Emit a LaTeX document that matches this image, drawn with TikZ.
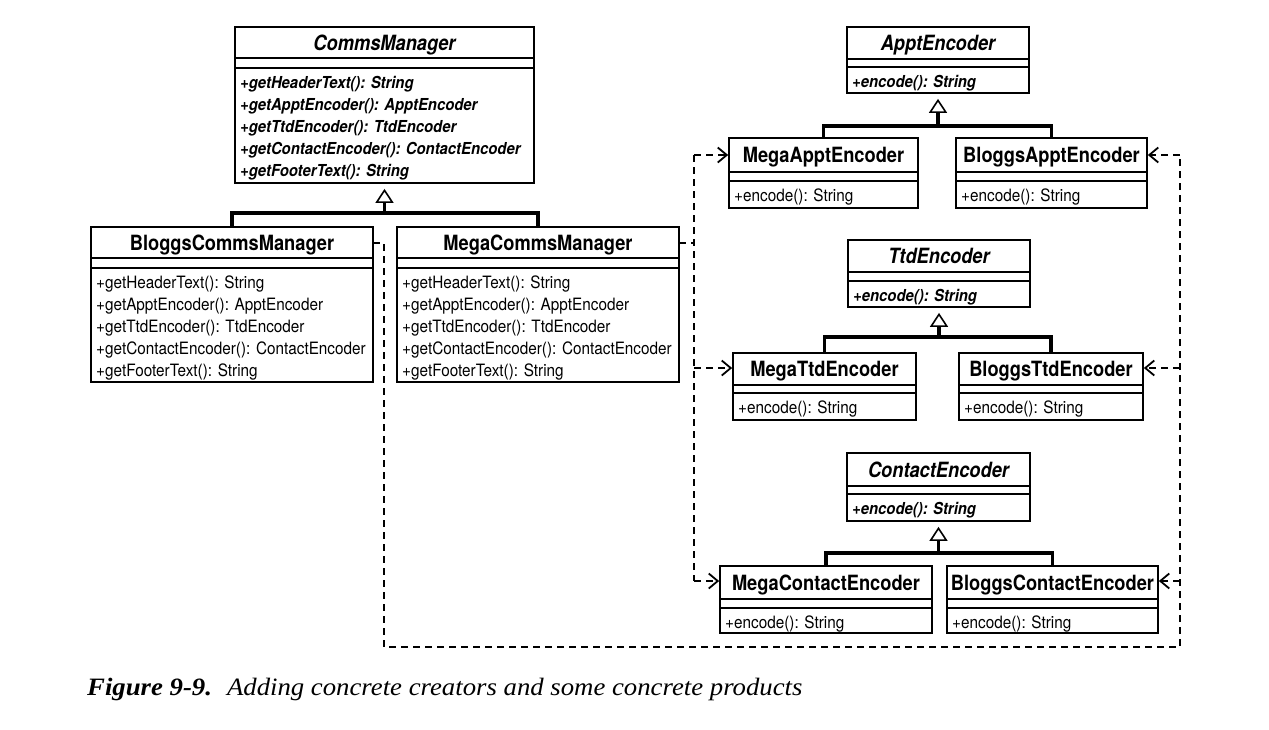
\documentclass[tikz,border=0pt]{standalone}
\usepackage{fontspec}
\usetikzlibrary{arrows.meta,fit,positioning}
\newfontfamily\umltitlefont{TeX Gyre Heros}[FakeStretch=0.87]
\newfontfamily\umlfont{TeX Gyre Heros}[FakeStretch=0.9]
\newfontfamily\capfont{Liberation Serif}[FakeStretch=1.07]
\newcommand{\ttl}{\umltitlefont\bfseries\fontsize{21}{24}\selectfont}
\newcommand{\ttli}{\umltitlefont\bfseries\itshape\fontsize{21}{24}\selectfont}
\newcommand{\mth}{\umlfont\fontsize{17}{22.2}\selectfont}
\newcommand{\mthi}{\umlfont\bfseries\itshape\fontsize{16.5}{22.2}\selectfont}
% #1 name, #2 left, #3 top, #4 right, #5 sep1, #6 sep2, #7 bottom, #8 title, #9 methods
\newcommand{\umlbox}[9]{%
  \path (#2,#3) coordinate (#1-nw) (#4,#7) coordinate (#1-se);
  \node[classbox, fit=(#1-nw)(#1-se)] (#1) {};
  \draw[seprule] (#2,#5) -- (#4,#5) (#2,#6) -- (#4,#6);
  \node[anchor=base, inner sep=0pt] (#1-t) at ({(#2+#4)/2},{(#3+#5)/2+7.5}) {#8};
  \node[anchor=base west, inner sep=0pt] (#1-m) at (#2+5,#6+20) {#9};
}
\tikzset{
  classbox/.style={draw, line width=1.7pt, inner sep=0pt},
  seprule/.style={line width=1.4pt},
  genline/.style={line width=3.2pt},
  gentip/.style={genline, -{Triangle[open, length=14pt, width=18pt, line width=1.6pt]}, shorten >=5pt},
  dep/.style={line width=1.8pt, dash pattern=on 7pt off 5pt},
  deparrow/.style={dep, -{Straight Barb[length=9pt, width=15pt, line width=1.8pt]}},
}
\begin{document}
\begin{tikzpicture}[x=1pt,y=-1pt]
\useasboundingbox (0,0) rectangle (1269,729);

% Comms managers
\umlbox{cm}{235}{27}{534}{58}{68}{183}{\ttli CommsManager}{\mthi\begin{tabular}[t]{@{}l@{}}+getHeaderText(): String\\+getApptEncoder(): ApptEncoder\\+getTtdEncoder(): TtdEncoder\\+getContactEncoder(): ContactEncoder\\+getFooterText(): String\end{tabular}}
\umlbox{bcm}{91}{227}{373}{258}{268}{382}{\ttl BloggsCommsManager}{\mth\begin{tabular}[t]{@{}l@{}}+getHeaderText(): String\\+getApptEncoder(): ApptEncoder\\+getTtdEncoder(): TtdEncoder\\+getContactEncoder(): ContactEncoder\\+getFooterText(): String\end{tabular}}
\umlbox{mcm}{397}{227}{679}{258}{268}{382}{\ttl MegaCommsManager}{\mth\begin{tabular}[t]{@{}l@{}}+getHeaderText(): String\\+getApptEncoder(): ApptEncoder\\+getTtdEncoder(): TtdEncoder\\+getContactEncoder(): ContactEncoder\\+getFooterText(): String\end{tabular}}

% Appt encoders
\umlbox{ae}{847}{27}{1029}{59}{67}{93}{\ttli ApptEncoder}{\mthi +encode(): String}
\umlbox{mae}{729}{138}{918}{172}{181}{208}{\ttl MegaApptEncoder}{\mth +encode(): String}
\umlbox{bae}{956}{138}{1147}{172}{181}{208}{\ttl BloggsApptEncoder}{\mth +encode(): String}

% Ttd encoders
\umlbox{te}{848}{240}{1030}{272}{281}{307}{\ttli TtdEncoder}{\mthi +encode(): String}
\umlbox{mte}{733}{353}{916}{385}{393}{420}{\ttl MegaTtdEncoder}{\mth +encode(): String}
\umlbox{bte}{959}{353}{1143}{385}{393}{420}{\ttl BloggsTtdEncoder}{\mth +encode(): String}

% Contact encoders
\umlbox{ce}{847}{453}{1030}{486}{494}{521}{\ttli ContactEncoder}{\mthi +encode(): String}
\umlbox{mce}{720}{566}{932}{599}{608}{633}{\ttl MegaContactEncoder}{\mth +encode(): String}
\umlbox{bce}{947}{566}{1158}{599}{608}{633}{\ttl BloggsContactEncoder}{\mth +encode(): String}

% Generalisations
\coordinate (cmbar) at (384.5,213);
\draw[genline] (bcm.north) |- (cmbar) -| (mcm.north);
\draw[gentip] (cmbar) -- (cm.south);
\coordinate (aebar) at (938,126);
\draw[genline] (mae.north) |- (aebar) -| (bae.north);
\draw[gentip] (aebar) -- (ae.south);
\coordinate (tebar) at (939,337);
\draw[genline] (mte.north) |- (tebar) -| (bte.north);
\draw[gentip] (tebar) -- (te.south);
\coordinate (cebar) at (938.5,553);
\draw[genline] (mce.north) |- (cebar) -| (bce.north);
\draw[gentip] (cebar) -- (ce.south);

% Mega dependencies
\coordinate (mout) at (679,243);
\coordinate (mbusA) at (694,155);
\coordinate (mbusT) at (694,368);
\coordinate (mbusC) at (694,581);
\draw[dep] (mout) -- (mout -| mbusA);
\draw[dep] (mbusA) -- (mbusC);
\draw[deparrow] (mbusA) -- (mae.west |- mbusA);
\draw[deparrow] (mbusT) -- (mte.west |- mbusT);
\draw[deparrow] (mbusC) -- (mce.west |- mbusC);

% Bloggs dependencies
\coordinate (bout) at (373,243);
\coordinate (bcorner) at (384,647);
\coordinate (bbusA) at (1180,155);
\coordinate (bbusT) at (1180,368);
\coordinate (bbusC) at (1180,581);
\draw[dep] (bout) -| (bcorner) -| (bbusA);
\draw[deparrow] (bbusA) -- (bae.east |- bbusA);
\draw[deparrow] (bbusT) -- (bte.east |- bbusT);
\draw[deparrow] (bbusC) -- (bce.east |- bbusC);

% Caption
\node[anchor=base west, inner sep=0pt] (caption) at (87,695) {\capfont\fontsize{25}{28}\selectfont\textbf{\itshape Figure 9-9.}\hspace{0.6em}\itshape Adding concrete creators and some concrete products};
\end{tikzpicture}
\end{document}
